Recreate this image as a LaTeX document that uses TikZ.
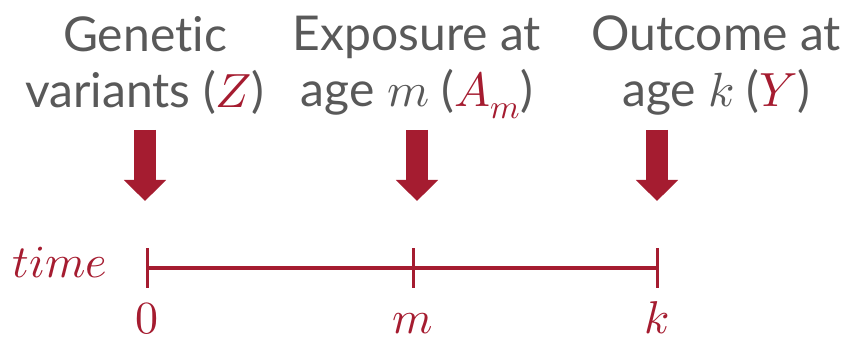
\documentclass[tikz,border=0pt]{standalone}
\usepackage{fontspec}
\usepackage{unicode-math}
\setmainfont{Lato}[Ligatures={NoCommon}]
\setmathfont{Latin Modern Math}
\usetikzlibrary{arrows.meta}
\definecolor{darkred}{HTML}{A51C30}
\definecolor{textgray}{HTML}{595959}
\begin{document}
\begin{tikzpicture}[x=1pt,y=-1pt,
  heading/.style={text=textgray, align=center, inner sep=0pt, anchor=north,
    font=\fontsize{48}{56}\selectfont},
  bigarrow/.style={darkred, line width=22pt, -{Triangle[width=41pt,length=21pt]}},
  tickmark/.style={darkred, line width=3pt},
  ticklabel/.style={text=darkred, inner sep=0pt, anchor=base,
    font=\fontsize{46}{46}\selectfont}
]
\useasboundingbox (0,0) rectangle (851,344);

% Headings
\node[heading] (genes) at (145,16) {Genetic\\variants ($\color{darkred}Z$)};
\node[heading] (expo) at (417,16) {Exposure at\\age $m$ ($\color{darkred}A_m$)};
\node[heading] (outc) at (716,16) {Outcome at\\age $k$ ($\color{darkred}Y$)};

% Arrows
\coordinate (za) at (145,130);
\coordinate (zb) at (145,201);
\coordinate (aa) at (417,130);
\coordinate (ab) at (417,201);
\coordinate (ya) at (657,130);
\coordinate (yb) at (657,201);
\draw[bigarrow] (za) -- (zb);
\draw[bigarrow] (aa) -- (ab);
\draw[bigarrow] (ya) -- (yb);

% Timeline
\coordinate (t0) at (147,268);
\coordinate (tm) at (413,268);
\coordinate (tk) at (657,268);
\draw[darkred, line width=4pt] (t0) -- (tk);
\foreach \t in {t0,tm,tk}
  \draw[tickmark] ([yshift=-20pt]\t) -- ([yshift=20pt]\t);

% Labels
\node[ticklabel] (timelab) at (60,278) {$time$};
\node[ticklabel] (l0) at (147,334) {$0$};
\node[ticklabel] (lm) at (413,334) {$m$};
\node[ticklabel] (lk) at (657,334) {$k$};
\end{tikzpicture}
\end{document}
